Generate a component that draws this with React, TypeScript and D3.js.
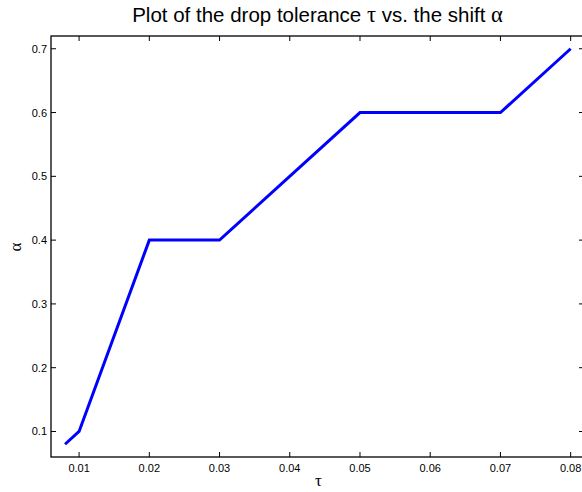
import * as d3 from 'd3';
import { useEffect, useRef } from 'react';

const tau = [0.008, 0.01, 0.02, 0.03, 0.05, 0.07, 0.08];
const alpha = [0.08, 0.1, 0.4, 0.4, 0.6, 0.6, 0.7];
const xTicks = [0.01, 0.02, 0.03, 0.04, 0.05, 0.06, 0.07, 0.08];
const yTicks = [0.1, 0.2, 0.3, 0.4, 0.5, 0.6, 0.7];

const App = () => {
  const ref = useRef<SVGSVGElement>(null);

  useEffect(() => {
    const width = 582;
    const height = 492;
    const left = 51, right = 584, top = 36, bottom = 457;
    const font = 'Liberation Sans, Arial, Helvetica, sans-serif';
    const greek = 'Liberation Serif, serif';

    const svg = d3.select(ref.current);
    svg.selectAll('*').remove();
    svg.attr('width', width).attr('height', height);

    svg.append('rect').attr('width', width).attr('height', height).attr('fill', '#fff');

    const x = d3.scaleLinear().domain([0.006, 0.0819]).range([left, right]);
    const y = d3.scaleLinear().domain([0.06, 0.72]).range([bottom, top]);

    const g = svg.append('g');

    // box ticks, pointing inward on all four sides
    const tl = 5;
    g.selectAll('.xtb').data(xTicks).enter().append('line')
      .attr('x1', d => x(d)).attr('x2', d => x(d))
      .attr('y1', bottom).attr('y2', bottom - tl)
      .attr('stroke', '#000').attr('stroke-width', 1);
    g.selectAll('.xtt').data(xTicks).enter().append('line')
      .attr('x1', d => x(d)).attr('x2', d => x(d))
      .attr('y1', top).attr('y2', top + tl)
      .attr('stroke', '#000').attr('stroke-width', 1);
    g.selectAll('.ytl').data(yTicks).enter().append('line')
      .attr('x1', left).attr('x2', left + tl)
      .attr('y1', d => y(d)).attr('y2', d => y(d))
      .attr('stroke', '#000').attr('stroke-width', 1);
    g.selectAll('.ytr').data(yTicks).enter().append('line')
      .attr('x1', right).attr('x2', right - tl)
      .attr('y1', d => y(d)).attr('y2', d => y(d))
      .attr('stroke', '#000').attr('stroke-width', 1);

    // box
    g.append('rect')
      .attr('x', left).attr('y', top)
      .attr('width', right - left).attr('height', bottom - top)
      .attr('fill', 'none').attr('stroke', '#000').attr('stroke-width', 1.3);

    // tick labels
    g.selectAll('.xl').data(xTicks).enter().append('text')
      .attr('x', d => x(d)).attr('y', bottom + 15)
      .attr('text-anchor', 'middle')
      .attr('font-family', font).attr('font-size', 11)
      .text(d => d3.format('.2f')(d));
    g.selectAll('.yl').data(yTicks).enter().append('text')
      .attr('x', left - 4).attr('y', d => y(d) + 4)
      .attr('text-anchor', 'end')
      .attr('font-family', font).attr('font-size', 11)
      .text(d => d3.format('.1f')(d));

    // the line
    const line = d3.line<number>()
      .x((d, i) => x(tau[i]))
      .y(d => y(d));
    g.append('path')
      .datum(alpha)
      .attr('d', line)
      .attr('fill', 'none')
      .attr('stroke', '#0000ff')
      .attr('stroke-width', 3);

    // title
    const title = svg.append('text')
      .attr('x', 317.5).attr('y', 22)
      .attr('text-anchor', 'middle')
      .attr('font-family', font).attr('font-size', 20.5);
    title.append('tspan').text('Plot of the drop tolerance ');
    title.append('tspan').attr('font-family', greek).attr('font-size', 22.5).text('τ');
    title.append('tspan').text(' vs. the shift ');
    title.append('tspan').attr('font-family', greek).attr('font-size', 22.5).text('α');

    // axis labels
    svg.append('text')
      .attr('x', 318.5).attr('y', 486)
      .attr('text-anchor', 'middle')
      .attr('font-family', greek).attr('font-size', 17)
      .text('τ');
    svg.append('text')
      .attr('transform', `translate(21,247) rotate(-90)`)
      .attr('text-anchor', 'middle')
      .attr('font-family', greek).attr('font-size', 17)
      .text('α');
  }, []);

  return <svg ref={ref} style={{ display: 'block', position: 'absolute', left: 0, top: 0 }} />;
};

export default App;
